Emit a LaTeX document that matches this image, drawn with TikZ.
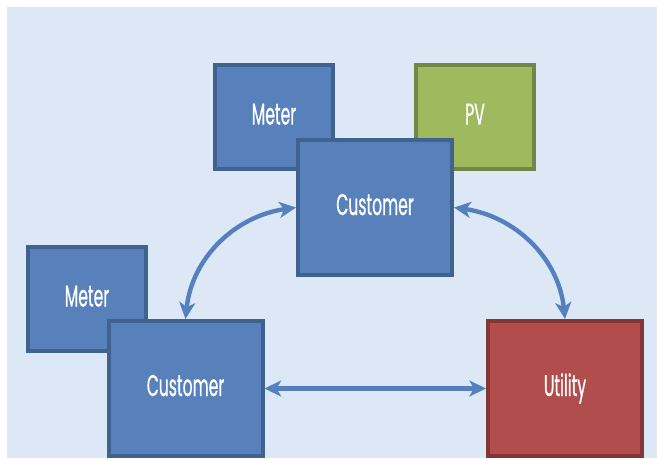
\documentclass[tikz,border=0pt]{standalone}
\usepackage{fontspec}
\setmainfont[FakeStretch=0.52,FakeBold=0.6]{Poppins}
\usetikzlibrary{arrows.meta}
\definecolor{bgc}{HTML}{DCE8F5}
\definecolor{bluef}{HTML}{5880BB}
\definecolor{blued}{HTML}{3F628F}
\definecolor{greenf}{HTML}{9FB95F}
\definecolor{greend}{HTML}{708745}
\definecolor{redf}{HTML}{B24D4D}
\definecolor{redd}{HTML}{843535}
\definecolor{arrowc}{HTML}{5580BD}
\tikzset{
  boxbase/.style={rectangle,draw,line width=3pt,inner sep=0pt,text=white,font=\fontsize{22.5}{24}\selectfont,text height=11.25pt,text depth=0pt},
  smallbox/.style={boxbase,minimum width=88.5pt,minimum height=78pt},
  bigbox/.style={boxbase,minimum width=115.5pt,minimum height=101.25pt},
  bluebox/.style={fill=bluef,draw=blued},
  greenbox/.style={fill=greenf,draw=greend},
  redbox/.style={fill=redf,draw=redd},
  link/.style={draw=arrowc,line width=3.3pt,{Stealth[length=12.5pt,width=12pt,inset=3.5pt]}-{Stealth[length=12.5pt,width=12pt,inset=3.5pt]}}
}
\begin{document}
\begin{tikzpicture}[x=0.75pt,y=-0.75pt]
\useasboundingbox (0,0) rectangle (657,458);
\fill[bgc] (7,7) rectangle (657,458);
\node[smallbox,bluebox] (meterA) at (274,117) {Meter};
\node[smallbox,greenbox] (pv) at (475,117) {PV};
\node[bigbox,bluebox] (custA) at (375,207.5) {Customer};
\node[smallbox,bluebox] (meterB) at (87,299) {Meter};
\node[bigbox,bluebox] (custB) at (185.5,388.5) {Customer};
\node[bigbox,redbox] (utility) at (565,388.5) {Utility};
\draw[link] (custA.west) to[out=188,in=84,looseness=1.0] (custB.north);
\draw[link] (custA.east) to[out=-8,in=96,looseness=1.0] (utility.north);
\draw[link] (custB.east) -- (utility.west);
\end{tikzpicture}
\end{document}
